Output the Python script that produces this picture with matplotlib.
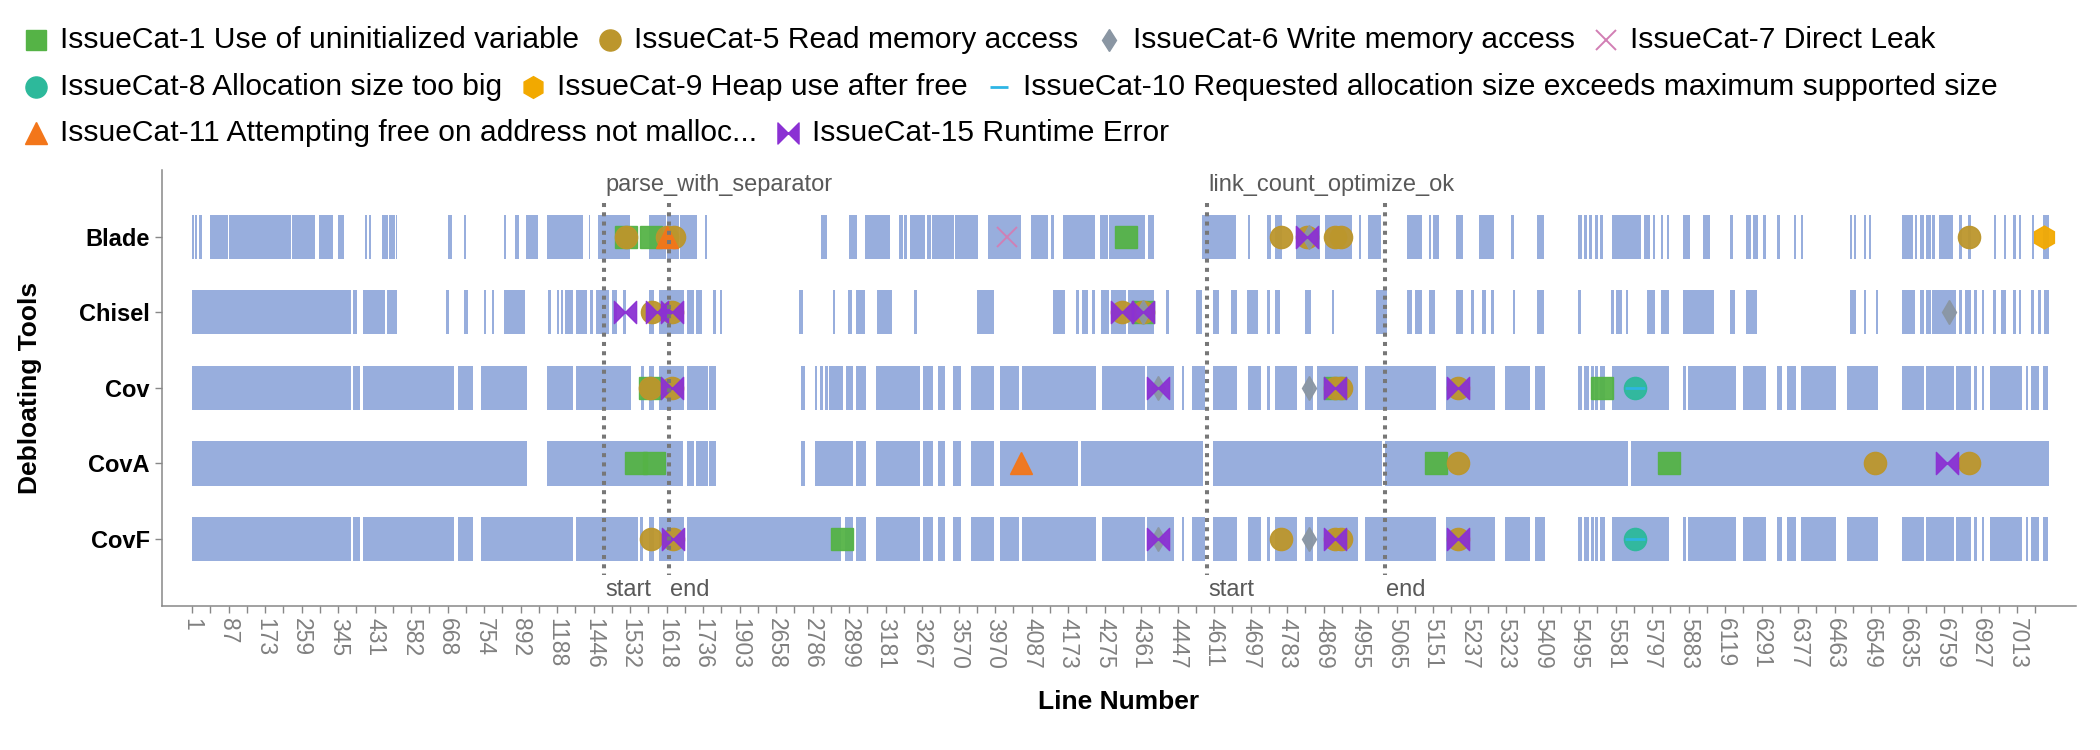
import matplotlib.pyplot as plt
from matplotlib.path import Path

plt.rcParams['font.family'] = ['Liberation Sans', 'DejaVu Sans']

# rows of the chart
tools = ['Blade', 'Chisel', 'Cov', 'CovA', 'CovF']

# x axis is ordinal: one slot per line number present, labelled every 86 slots
tick_labels = ['1', '87', '173', '259', '345', '431', '582', '668', '754', '892',
               '1188', '1446', '1532', '1618', '1736', '1903', '2658', '2786', '2899', '3181',
               '3267', '3570', '3970', '4087', '4173', '4275', '4361', '4447', '4611', '4697',
               '4783', '4869', '4955', '5065', '5151', '5237', '5323', '5409', '5495', '5581',
               '5797', '5883', '6119', '6291', '6377', '6463', '6549', '6635', '6759', '6927',
               '7013']
label_step = 86

# covered line slots (first, last) per tool
blade_cov = [(0, 3), (7, 11), (17, 23), (42, 83), (87, 233), (236, 289), (299, 332), (345, 358),
             (408, 412), (417, 421), (447, 461), (464, 477), (480, 483), (604, 612), (640, 644),
             (736, 740), (761, 769), (787, 814), (836, 920), (935, 938), (956, 1031), (1076, 1116),
             (1120, 1147), (1151, 1188), (1208, 1212), (1483, 1495), (1549, 1567), (1585, 1645),
             (1666, 1674), (1679, 1685), (1693, 1726), (1731, 1740), (1744, 1795), (1799, 1852),
             (1876, 1953), (1976, 2016), (2025, 2030), (2053, 2128), (2140, 2157), (2162, 2245),
             (2252, 2267), (2380, 2459), (2488, 2491), (2534, 2542), (2551, 2567), (2602, 2657),
             (2669, 2732), (2749, 2754), (2771, 2800), (2864, 2897), (2914, 2919), (2925, 2938),
             (2978, 2995), (3032, 3066), (3107, 3115), (3170, 3184), (3265, 3275), (3280, 3286),
             (3291, 3298), (3307, 3312), (3318, 3323), (3345, 3414), (3422, 3435), (3443, 3447),
             (3461, 3465), (3475, 3480), (3513, 3530), (3560, 3577), (3625, 3631), (3663, 3673),
             (3679, 3689), (3703, 3708), (3735, 3741), (3774, 3778), (3791, 3796), (3907, 3911),
             (3917, 3921), (3940, 3944), (3952, 3955), (4029, 4054), (4059, 4064), (4071, 4080),
             (4086, 4096), (4101, 4106), (4117, 4149), (4164, 4170), (4186, 4192), (4247, 4250),
             (4271, 4274), (4292, 4296), (4306, 4309), (4335, 4340), (4361, 4375)]
chisel_cov = [(0, 373), (379, 388), (402, 453), (459, 467), (470, 483), (599, 604), (640, 649),
              (689, 693), (707, 711), (736, 783), (838, 846), (860, 865), (869, 874), (880, 898),
              (906, 915), (917, 929), (937, 943), (953, 982), (990, 1000), (1016, 1023),
              (1078, 1088), (1100, 1159), (1167, 1181), (1188, 1200), (1227, 1233), (1244, 1249),
              (1430, 1438), (1510, 1515), (1545, 1554), (1565, 1585), (1615, 1648), (1701, 1707),
              (1851, 1888), (2029, 2056), (2082, 2089), (2098, 2111), (2120, 2127), (2143, 2160),
              (2165, 2200), (2205, 2267), (2296, 2302), (2366, 2378), (2406, 2419), (2449, 2461),
              (2487, 2512), (2534, 2540), (2553, 2563), (2622, 2636), (2686, 2691), (2791, 2814),
              (2864, 2875), (2883, 2897), (2915, 2927), (2978, 2995), (3013, 3021), (3040, 3048),
              (3060, 3066), (3112, 3117), (3170, 3184), (3265, 3273), (3344, 3349), (3355, 3369),
              (3378, 3384), (3428, 3446), (3461, 3480), (3513, 3585), (3625, 3634), (3663, 3686),
              (3906, 3921), (3940, 3944), (3968, 3972), (4029, 4059), (4071, 4080), (4086, 4096),
              (4101, 4155), (4164, 4170), (4178, 4190), (4200, 4206), (4218, 4222), (4245, 4251),
              (4263, 4274), (4291, 4296), (4306, 4309), (4334, 4340), (4350, 4356), (4363, 4375)]
cov_cov = [(0, 374), (379, 395), (402, 616), (627, 662), (682, 789), (836, 898), (906, 1033),
           (1059, 1064), (1076, 1088), (1100, 1159), (1167, 1214), (1218, 1233), (1435, 1443),
           (1469, 1473), (1481, 1487), (1491, 1497), (1501, 1532), (1542, 1556), (1564, 1588),
           (1611, 1715), (1723, 1745), (1758, 1774), (1793, 1811), (1836, 1890), (1904, 1949),
           (1955, 2130), (2144, 2245), (2251, 2314), (2333, 2337), (2357, 2386), (2406, 2461),
           (2488, 2518), (2534, 2540), (2553, 2603), (2622, 2641), (2652, 2746), (2763, 2930),
           (2954, 3070), (3093, 3151), (3164, 3188), (3265, 3275), (3281, 3290), (3296, 3302),
           (3307, 3313), (3318, 3329), (3345, 3480), (3513, 3520), (3526, 3637), (3654, 3707),
           (3735, 3746), (3758, 3779), (3791, 3873), (3901, 3972), (4029, 4080), (4086, 4151),
           (4157, 4192), (4200, 4206), (4218, 4222), (4236, 4312), (4322, 4326), (4334, 4351),
           (4361, 4373)]
cova_cov = [(0, 789), (836, 1156), (1167, 1181), (1188, 1214), (1218, 1233), (1435, 1443),
            (1469, 1556), (1564, 1588), (1611, 1715), (1723, 1745), (1758, 1774), (1793, 1811),
            (1836, 1890), (1904, 2088), (2096, 2382), (2406, 2803), (2811, 3384), (3392, 4375)]
covf_cov = [(0, 374), (379, 395), (402, 616), (627, 662), (682, 897), (906, 1049), (1055, 1063),
            (1076, 1088), (1100, 1159), (1167, 1528), (1540, 1556), (1564, 1588)] + cov_cov[19:]

coverage = [blade_cov, chisel_cov, cov_cov, cova_cov, covf_cov]

# issues found: (tool, line slot)
cat1_pts = [('Blade', 1023), ('Blade', 1082), ('Blade', 2201), ('Chisel', 2240), ('Cov', 1080),
            ('Cov', 2694), ('Cov', 3322), ('CovA', 1047), ('CovA', 1089), ('CovA', 2930),
            ('CovA', 3481), ('CovF', 1531)]
cat5_pts = [('Blade', 1023), ('Blade', 1118), ('Blade', 1135), ('Blade', 2565), ('Blade', 2628),
            ('Blade', 2694), ('Blade', 2708), ('Blade', 4186), ('Chisel', 1084), ('Chisel', 1131),
            ('Chisel', 2190), ('Chisel', 2240), ('Cov', 1080), ('Cov', 1131), ('Cov', 2694),
            ('Cov', 2708), ('Cov', 2983), ('CovA', 2983), ('CovA', 3966), ('CovA', 4186),
            ('CovF', 1082), ('CovF', 1134), ('CovF', 2565), ('CovF', 2694), ('CovF', 2708),
            ('CovF', 2983)]
cat6_pts = [('Blade', 2632), ('Chisel', 2240), ('Chisel', 4139), ('Cov', 2276), ('Cov', 2632),
            ('CovF', 2276), ('CovF', 2632)]
cat7_pts = [('Blade', 1920)]
cat8_pts = [('Cov', 3400), ('CovF', 3400)]
cat9_pts = [('Blade', 4363)]
cat10_pts = [('Cov', 3400), ('CovF', 3400)]
cat11_pts = [('Blade', 1118), ('CovA', 1954)]
cat15_pts = [('Blade', 2628), ('Chisel', 1021), ('Chisel', 1096), ('Chisel', 1131), ('Chisel', 2190),
             ('Chisel', 2240), ('Cov', 1131), ('Cov', 2276), ('Cov', 2694), ('Cov', 2983),
             ('CovA', 4135), ('CovF', 1134), ('CovF', 2276), ('CovF', 2694), ('CovF', 2983)]

cat_names = ['IssueCat-1 Use of uninitialized variable', 'IssueCat-5 Read memory access',
             'IssueCat-6 Write memory access', 'IssueCat-7 Direct Leak',
             'IssueCat-8 Allocation size too big', 'IssueCat-9 Heap use after free',
             'IssueCat-10 Requested allocation size exceeds maximum supported size',
             'IssueCat-11 Attempting free on address not malloc...', 'IssueCat-15 Runtime Error']
cat_points = [cat1_pts, cat5_pts, cat6_pts, cat7_pts, cat8_pts, cat9_pts, cat10_pts, cat11_pts,
              cat15_pts]

# functions marked with start / end lines
func_names = ['parse_with_separator', 'link_count_optimize_ok']
func_start = [970, 2392]
func_end = [1123, 2810]

# bowtie marker (two triangles meeting in the middle)
bowtie = Path([(-1, 1), (0, 0), (-1, -1), (-1, 1), (1, 1), (0, 0), (1, -1), (1, 1)],
              [Path.MOVETO, Path.LINETO, Path.LINETO, Path.CLOSEPOLY,
               Path.MOVETO, Path.LINETO, Path.LINETO, Path.CLOSEPOLY])

styles = [
    dict(marker='s', color='#55b346', ms=15.5),
    dict(marker='o', color='#bc962c', ms=16),
    dict(marker='d', color='#8a96a3', ms=12),
    dict(marker='x', color='#d27eb4', ms=15, mew=1.4),
    dict(marker='o', color='#2db99b', ms=16),
    dict(marker='h', color='#f2a900', ms=16.5),
    dict(marker='_', color='#2eb5e5', ms=14, mew=2),
    dict(marker='^', color='#f3761a', ms=16),
    dict(marker=bowtie, color='#8b31d3', ms=16),
]
legend_rows = [[0, 1, 2, 3], [4, 5, 6], [7, 8]]

bar_color = '#98aedd'
axis_grey = '#888888'

fig = plt.figure(figsize=(21, 7.5), dpi=100)
ax = fig.add_axes([162 / 2100, 144 / 750, 1914 / 2100, 436 / 750])

bar_h = 0.586
for r, segs in enumerate(coverage):
    ax.broken_barh([(a - 0.5, b - a + 1) for a, b in segs], (r - bar_h / 2, bar_h),
                   facecolor=bar_color, edgecolor='none', zorder=1)

for i, pts in enumerate(cat_points):
    xs = [p[1] for p in pts]
    ys = [tools.index(p[0]) for p in pts]
    ax.plot(xs, ys, linestyle='none', alpha=0.95, zorder=3 + i * 0.1, **styles[i])

for name, s, e in zip(func_names, func_start, func_end):
    for x in (s, e):
        ax.plot([x, x], [-0.45, 4.47], color='#777777', lw=2.9, linestyle=(0, (1, 1.3)),
                zorder=5)
    ax.text(s + 3, -0.684, name, fontsize=17, color='#595959', va='center', ha='left')
    ax.text(s + 3, 4.673, 'start', fontsize=17, color='#595959', va='center', ha='left')
    ax.text(e + 3, 4.673, 'end', fontsize=17, color='#595959', va='center', ha='left')

ax.set_xlim(-71, 4439)
ax.set_ylim(4.886, -0.882)

ax.set_xticks([k * label_step for k in range(len(tick_labels))])
ax.set_xticklabels(tick_labels, rotation=-90)
ax.set_xticks([k * label_step + label_step // 2 for k in range(len(tick_labels))], minor=True)
ax.set_yticks(range(len(tools)))
ax.set_yticklabels(tools, fontweight='bold')

ax.tick_params(axis='x', which='both', length=5, width=1, color=axis_grey,
               labelcolor='#808080', labelsize=16.5, pad=4)
ax.tick_params(axis='y', length=5, width=1, color=axis_grey, labelsize=17, pad=4)
for sp in ['top', 'right']:
    ax.spines[sp].set_visible(False)
for sp in ['left', 'bottom']:
    ax.spines[sp].set_color(axis_grey)
    ax.spines[sp].set_linewidth(1.1)

ax.set_xlabel('Line Number', fontsize=19, fontweight='bold', va='top')
ax.xaxis.set_label_coords(0.5, -0.193)
ax.set_ylabel('Debloating Tools', fontsize=19, fontweight='bold')
ax.yaxis.set_label_coords(-0.0627, 0.5)

# legend laid out as a flowing list across the top
lax = fig.add_axes([0, 0, 1, 1])
lax.set_xlim(0, 2100)
lax.set_ylim(750, 0)
lax.axis('off')
renderer = fig.canvas.get_renderer()
row_y = [40, 87, 133]
for row, y in zip(legend_rows, row_y):
    x = 36
    for i in row:
        st = dict(styles[i])
        st['ms'] = st['ms'] * 0.95
        lax.plot([x], [y], linestyle='none', **st)
        t = lax.text(x + 24, y, cat_names[i], fontsize=21.6, color='black', va='center', ha='left')
        bb = t.get_window_extent(renderer)
        x = bb.x1 + 31

fig.savefig('out.png', dpi=100)
